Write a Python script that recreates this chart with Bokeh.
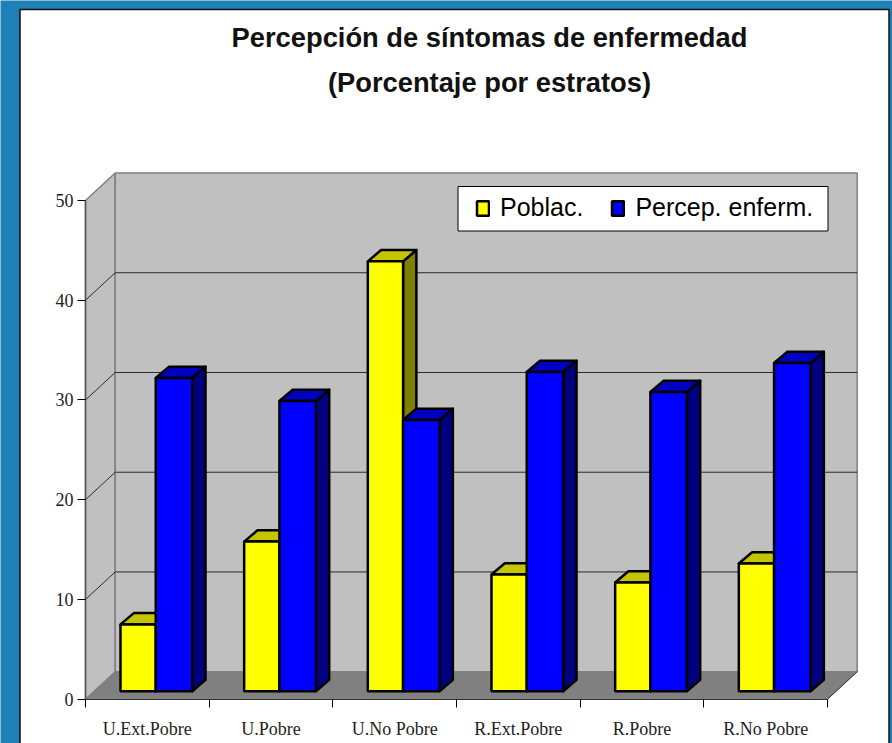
from bokeh.plotting import figure
from bokeh.models import Range1d, LinearAxis, FixedTicker, Legend, LegendItem, Label
from bokeh.embed import file_html
from bokeh.resources import INLINE

categories = ["U.Ext.Pobre", "U.Pobre", "U.No Pobre", "R.Ext.Pobre", "R.Pobre", "R.No Pobre"]
poblac = [6.7, 15.0, 43.1, 11.7, 10.9, 12.8]
percep = [31.4, 29.1, 27.2, 32.0, 30.0, 32.9]
y_ticks = [0, 10, 20, 30, 40, 50]
series_names = ["Poblac.", "Percep. enferm."]
title_lines = ["Percepción de síntomas de enfermedad", "(Porcentaje por estratos)"]

W, H = 892, 743
OFF = 0
X0, X6 = 85.0, 827.0      # page px of category 0 and 6
Y0, Y50 = 698.7, 200.0    # page px of value 0 and 50
sx = (X6 - X0) / 6
sy = (Y0 - Y50) / 50
px = lambda v: (v - X0) / sx   # page px -> data
py = lambda v: (Y0 - v) / sy

p = figure(width=W, height=H, output_backend="svg", toolbar_location=None,
           x_range=Range1d(px(OFF), px(OFF + W)), y_range=Range1d(py(OFF + H), py(OFF)),
           x_axis_location=None, y_axis_location=None, min_border=0,
           background_fill_color="#1F7FB7", border_fill_color="#1F7FB7",
           outline_line_color=None)
p.xgrid.visible = False
p.ygrid.visible = False

# white panel
p.quad(left=[px(19.5)], right=[px(888.5)], top=[py(9)], bottom=[py(760)],
       fill_color="white", line_color="#111111", line_width=1.5)

ncat = len(categories)
ymax = y_ticks[-1]
dx = 29.7 / sx
dy = 27.5 / sy

# walls and floor
wall_line = "#808080"
p.patch([0, dx, dx, 0], [0, dy, ymax + dy, ymax], fill_color="#C0C0C0", line_color=wall_line, line_width=1.5)
p.patch([dx, ncat + dx, ncat + dx, dx], [dy, dy, ymax + dy, ymax + dy], fill_color="#C0C0C0", line_color=wall_line, line_width=1.5)
p.patch([0, ncat, ncat + dx, dx], [0, 0, dy, dy], fill_color="#808080", line_color="#808080", line_width=1)

# grid lines
inner = y_ticks[1:-1]
p.multi_line([[0, dx, ncat + dx] for _ in inner], [[v, v + dy, v + dy] for v in inner],
             line_color="#2A2A2A", line_width=1)
p.line([ncat, ncat + dx], [0, dy], line_color="#333333", line_width=1)

# 3-D bars
off = 0.283
bw1 = 0.285
bw2 = 0.295
base = 0.8
ddx = 13.3 / sx
ddy = 11.3 / sy


def bars(vals, start, width, front, top, side):
    lefts = [i + start for i in range(ncat)]
    rights = [l + width for l in lefts]
    tops = [base + v for v in vals]
    p.patches([[r, r + ddx, r + ddx, r] for r in rights],
              [[base, base + ddy, t + ddy, t] for t in tops],
              fill_color=side, line_color="black", line_width=2.5, line_join="round")
    p.patches([[l, l + ddx, r + ddx, r] for l, r in zip(lefts, rights)],
              [[t, t + ddy, t + ddy, t] for t in tops],
              fill_color=top, line_color="black", line_width=2.5, line_join="round")
    return p.quad(left=lefts, right=rights, top=tops, bottom=[base] * ncat,
                  fill_color=front, line_color="black", line_width=2.5)


r1 = bars(poblac, off, bw1, "#FFFF00", "#C4C400", "#808000")
r2 = bars(percep, off + bw1, bw2, "#0000FF", "#0000C0", "#000080")

# axes
tick_style = dict(minor_tick_line_color=None, major_tick_out=8, major_tick_in=0, fixed_location=0,
                  major_tick_line_color="black")
ya = LinearAxis(ticker=FixedTicker(ticks=y_ticks), major_label_text_font="Liberation Serif",
                major_label_text_font_size="18px", major_label_text_color="#222222",
                major_label_standoff=4, axis_line_color="#555555", axis_line_width=1.5,
                bounds=(y_ticks[0], y_ticks[-1]), **tick_style)
p.add_layout(ya, "left")

xa = LinearAxis(ticker=FixedTicker(ticks=list(range(ncat + 1))), major_label_text_font_size="0px",
                major_label_overrides={i: "" for i in range(ncat + 1)}, axis_line_color="#333333",
                bounds=(0, ncat), **tick_style)
p.add_layout(xa, "below")

mids = [i + 0.5 for i in range(ncat)]
xl = LinearAxis(ticker=FixedTicker(ticks=mids), fixed_location=0, axis_line_color=None,
                major_tick_line_color=None, minor_tick_line_color=None, major_tick_out=0, major_tick_in=0,
                major_label_overrides=dict(zip(mids, categories)), major_label_standoff=20,
                major_label_text_font="Liberation Serif", major_label_text_font_size="18px",
                major_label_text_color="#222222")
p.add_layout(xl, "below")

# title
for text, yc in zip(title_lines, [36.5, 82]):
    p.add_layout(Label(x=px(489), y=py(yc), text=text, text_align="center", text_baseline="middle",
                       text_font="Liberation Sans", text_font_style="bold", text_font_size="27.3px",
                       text_color="#111111"))

# legend
p.quad(left=[px(457.5)], right=[px(827.5)], top=[py(186)], bottom=[py(230.5)],
       fill_color="white", line_color="black", line_width=1)
legend = Legend(items=[LegendItem(label=series_names[0], renderers=[r1]),
                       LegendItem(label=series_names[1], renderers=[r2])],
                orientation="horizontal", location=(475, H - 222),
                background_fill_alpha=0, border_line_color=None,
                label_text_font="Liberation Sans", label_text_font_size="25px", label_text_color="black",
                glyph_width=15, glyph_height=18, label_standoff=10, spacing=27, padding=0, margin=0)
p.add_layout(legend, "center")

open("out.html", "w").write(file_html(p, INLINE))
